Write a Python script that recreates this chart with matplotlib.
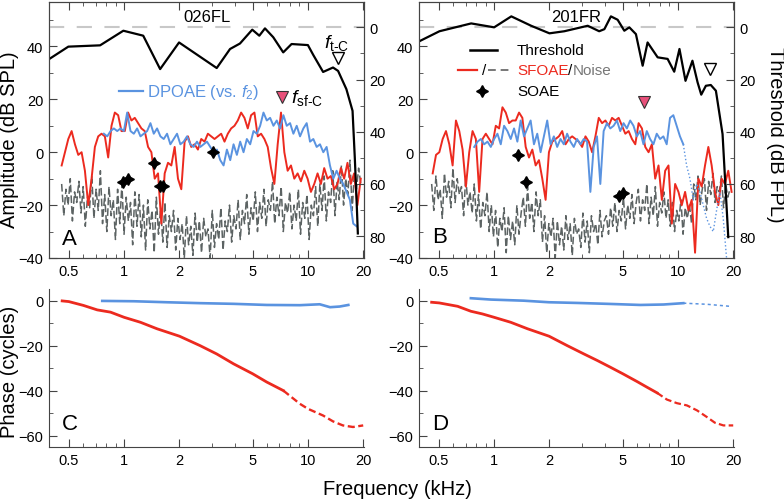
import numpy as np
import matplotlib.pyplot as plt
from matplotlib.ticker import NullFormatter
from matplotlib.lines import Line2D

plt.rcParams['font.family'] = ['Liberation Sans', 'DejaVu Sans']
plt.rcParams['mathtext.fontset'] = 'custom'
plt.rcParams['mathtext.rm'] = 'Liberation Sans'
plt.rcParams['mathtext.it'] = 'Liberation Sans:italic'

RED = '#ec2a1f'
BLUE = '#5a93e0'
GRAY = '#5c6363'
PINK = '#e8507a'
SPINE = '#444444'

# ---- panel A (026FL) ----
thr_a_f = [0.39, 0.497, 0.74, 0.99, 1.27, 1.57, 1.99, 3.19, 3.77, 4.27, 4.98, 5.44, 5.84,
           6.48, 7.34, 8.15, 10.0, 10.7, 12.1, 13.7, 14.6, 16.2, 17.5, 18.0, 18.4, 18.7]
thr_a = [12.2, 7.4, 6.9, 1.3, 3.2, 16, 5.8, 15.6, 8.3, 6.2, 0.9, 3.2, 0.4,
         3.8, 9.6, 6.4, 6.8, 10.6, 17.1, 15.4, 16.7, 23.7, 32, 50, 66, 79]

sf_a_range = (0.457, 19.4)
sf_a = [-5, 0, 5, 8, 3, -1, 0, -7, -20, -10, 2, 6, 7, 6, -2, 10, 15, 14, 8, 8,
        15, 12, 13, 11, 9, 8, 2, 0, -10, -8, -27, -8, -4, -5, 2, -10, -14, 4, 6, 2,
        3, 1, 5, 4, 7, 6, 5, 6, 7, 4, 7, 9, 10, 12, 15, 13, 9, 14, 15, 6,
        7, 5, 2, -6, -12, 3, 15, 0, -7, -5, -10, -8, -11, -7, -10, -15, -12, -8, -12, -6,
        -10, -9, -14, -12, -6, -10, -4, -12, -8, -20, -10]

dp_a_range = (0.776, 18.4)
dp_a = [7, 6, 8, 9, 8, 9, 8, 15, 8, 7, 9, 6, 7, 8, 11, 7, 9, 6, 5, 7,
        3, 5, 7, 3, 4, 6, 3, 2, 4, 2, 3, 4, 2, 0, 1, -3, -5, 1, -3, 3,
        -1, 4, 0, 5, 3, 8, 7, 10, 15, 12, 13, 10, 12, 9, 14, 10, 11, 7, 10, 6,
        9, 11, 4, 5, 2, 3, 0, 2, -5, -10, -7, -10, -12, -15, -18, -27, -28]

nz_a_range = (0.457, 19.4)
nz_a = [-12, -24, -14, -20, -10, -26, -15, -19, -11, -23, -13, -28, -17, -21, -9, -25,
        -14, -22, -7, -27, -16, -30, -13, -24, -18, -33, -14, -27, -12, -31, -17, -26,
        -19, -35, -15, -28, -16, -32, -20, -37, -18, -29, -22, -38, -17, -31, -21, -34,
        -19, -36, -24, -30, -22, -37, -25, -33, -27, -40, -24, -35, -28, -39, -23, -34,
        -26, -38, -25, -32, -29, -40, -22, -36, -27, -33, -21, -37, -26, -30, -20, -34,
        -24, -29, -18, -33, -22, -27, -16, -31, -21, -26, -15, -30, -19, -25, -14, -28,
        -18, -22, -11, -27, -17, -24, -13, -30, -19, -23, -15, -29, -20, -26, -14, -31,
        -19, -25, -16, -33, -20, -24, -13, -28, -12, -22, -9, -26, -15, -19, -7, -24,
        -11, -18, -5, -20, -10, -16, -3, -22, -8, -14, -6, -12]

soae_a_f = [0.99, 1.055, 1.46, 1.56, 1.63, 3.06]
soae_a = [-11.1, -10.1, -4.1, -12.9, -12.9, 0]

ph_sf_c_f = [0.46, 0.5, 0.6, 0.714, 0.843, 1.0, 1.226, 1.51, 2.0, 2.59, 3.19, 3.94, 5.0,
             5.97, 7.35, 9.05, 10.0, 12.1, 13.7, 15.5, 17.6, 20.0]
ph_sf_c = [0, -0.3, -2, -4, -5, -7.3, -9.5, -12.4, -15.7, -19.9, -23.6, -28, -32.4,
           -36.1, -39.9, -45.8, -48, -51, -53.6, -55.4, -56.1, -55.4]
ph_dp_c_f = [0.76, 1.13, 1.71, 2.59, 3.94, 5.97, 9.05, 11.6, 13.2, 14.9, 16.6]
ph_dp_c = [0, -0.15, -0.6, -1, -1.3, -1.8, -1.9, -1.5, -2.8, -2.5, -1.8]

# ---- panel B (201FR) ----
thr_b_f = [0.39, 0.504, 0.75, 1.0, 1.24, 1.59, 2.0, 2.41, 3.23, 3.73, 3.98, 4.32, 4.7,
           5.11, 5.44, 5.91, 6.43, 6.84, 7.76, 8.79, 9.55, 10.2, 11.0, 12.0, 12.8,
           13.4, 14.2, 15.1, 16.1, 17.5, 18.8]
thr_b = [5.4, 1.5, -1.5, 0, -4.2, -0.6, 2.3, 1.5, -0.6, 1.5, 0.7, -4.2, -2.9,
         1.3, 0, 2.6, 14.7, 5.8, 11.5, 12.1, 17, 8.3, 20.5, 12.8, 21.1,
         25.8, 22.4, 22.1, 24.3, 40.9, 80.4]

sf_b_range = (0.463, 19.6)
sf_b = [-8, -1, 0, 5, 8, 3, -5, 12, 8, 1, -13, 0, 8, 5, -15, 5, 7, 5, 3, 10,
        9, 17, 15, 11, 12, 12, 15, 13, 2, -2, 1, -5, -3, -10, -18, 0, 4, 5, 6, 8,
        3, 5, 6, 5, 4, 2, 6, 4, 0, 6, 13, 11, 12, 10, 13, 12, 13, 10, 7, 8,
        5, 3, 11, 9, 2, 0, 3, -10, -5, -18, -7, -5, -27, -12, -15, -20, -15, -22, -18, -38,
        -10, -13, -5, 2, -5, -15, -20, -10, -12, -7, -15]

dp_b_range = (0.779, 10.7)
dp_b = [2, 4, 5, 3, 4, 2, 5, 7, 3, 10, 8, 5, 9, 4, 12, 6, 9, 12, 3, 7,
        0, 6, 12, 3, 6, 2, 5, 3, 7, 4, 2, 5, 3, 5, 4, -15, 2, 6, -12, 8,
        11, 9, 10, 12, 8, 11, 9, 12, 10, 6, 8, 3, 8, 5, 3, 7, 5, 6, 3, 13,
        14, 10, 6, 3]
dp_b_tail_range = (10.7, 18.4)
dp_b_tail = [3, -5, -10, -18, -12, -15, -20, -25, -28, -30, -22, -15, -25, -40]

nz_b_range = (0.457, 19.2)
nz_b = [-12, -22, -9, -18, -14, -25, -8, -17, -11, -21, -6, -19, -10, -16, -13, -24,
        -9, -20, -15, -23, -12, -26, -16, -29, -19, -24, -15, -30, -20, -32, -22, -36,
        -25, -30, -21, -38, -24, -33, -26, -35, -20, -31, -23, -17, -28, -13, -25, -19,
        -30, -15, -24, -18, -34, -24, -38, -27, -32, -25, -40, -26, -35, -28, -37, -24,
        -33, -27, -39, -25, -31, -29, -36, -23, -34, -26, -38, -24, -30, -27, -35, -22,
        -32, -26, -24, -31, -21, -28, -19, -30, -22, -26, -17, -29, -20, -25, -16, -27,
        -19, -14, -26, -18, -22, -12, -27, -17, -24, -13, -28, -19, -23, -15, -25, -18,
        -28, -19, -30, -22, -26, -18, -31, -21, -25, -20, -27, -12, -18, -9, -20, -14,
        -10, -22, -11, -16, -8, -19, -13, -15, -9, -21, -12, -17, -14]

soae_b_f = [1.35, 1.5, 4.8, 5.04]
soae_b = [-0.9, -11.4, -16.7, -15.4]

ph_sf_d_f = [0.457, 0.503, 0.633, 0.747, 0.864, 1.0, 1.23, 1.52, 1.99, 2.5, 3.08, 3.64,
             4.29, 5.01, 6.0, 6.79, 7.7, 8.72, 9.88, 11.2, 12.7, 14.4, 15.9, 17.7, 20.0]
ph_sf_d = [-0.6, -0.9, -2.4, -4.6, -5.8, -7.3, -9.5, -12.4, -15.7, -19.9, -23.6, -26.5,
           -29.5, -32.4, -35.9, -38.4, -40.9, -43.9, -45.5, -46.5, -48.7, -51.7, -54.2, -55.4, -55.4]
ph_dp_d_f = [0.747, 0.96, 1.45, 1.99, 2.83, 4.12, 6.25, 8.36, 10.7, 14.4, 19.2]
ph_dp_d = [1.2, 0.6, 0.1, -0.6, -0.9, -1.3, -1.8, -1.6, -1.0, -1.5, -2.4]

xmaj = [0.5, 1, 2, 5, 10, 20]
xmaj_lab = ['0.5', '1', '2', '5', '10', '20']
xmin = [0.6, 0.7, 0.8, 0.9, 3, 4, 6, 7, 8, 9]


def grid(rng, vals):
    return np.geomspace(rng[0], rng[1], len(vals))


W, H = 784, 502
fig = plt.figure(figsize=(7.84, 5.02), dpi=100)


def box(l, r, t, b):
    return [l / W, 1 - b / H, (r - l) / W, (b - t) / H]


def style_x(ax):
    ax.set_xscale('log')
    ax.set_xlim(0.39, 20.2)
    ax.set_xticks(xmaj, xmaj_lab)
    ax.set_xticks(xmin, minor=True)
    ax.xaxis.set_minor_formatter(NullFormatter())


def top_panel(ax):
    style_x(ax)
    ax.set_ylim(-40, 57)
    ax.set_yticks([-40, -20, 0, 20, 40])
    ax.set_yticks([-30, -10, 10, 30, 50], minor=True)
    ax.tick_params(which='both', direction='in', top=True, labelsize=10.5, pad=4, color=SPINE)
    ax.tick_params(which='major', length=6)
    ax.tick_params(which='minor', length=3)
    for s in ax.spines.values():
        s.set_color(SPINE)
    ax2 = ax.twinx()
    ax2.set_ylim(88.4, -9.9)
    ax2.set_yticks([0, 20, 40, 60, 80])
    ax2.set_yticks([10, 30, 50, 70], minor=True)
    ax2.tick_params(which='both', direction='in', labelsize=10.5, pad=4, color=SPINE)
    ax2.tick_params(which='major', length=6)
    ax2.tick_params(which='minor', length=3)
    for s in ax2.spines.values():
        s.set_color(SPINE)
    ax2.axhline(0, color='#c8c8c8', lw=1.5, dashes=(7.3, 6), zorder=0)
    return ax2


def bottom_panel(ax):
    style_x(ax)
    ax.set_ylim(-65, 5.3)
    ax.set_yticks([-60, -40, -20, 0])
    ax.set_yticks([-50, -30, -10], minor=True)
    ax.tick_params(which='both', direction='in', labelsize=10.5, pad=4, color=SPINE)
    ax.tick_params(which='major', length=6)
    ax.tick_params(which='minor', length=3)
    ax.spines['top'].set_visible(False)
    ax.spines['right'].set_visible(False)
    for s in ax.spines.values():
        s.set_color(SPINE)


axA = fig.add_axes(box(49, 364, 2.5, 259))
axB = fig.add_axes(box(419, 734, 2.5, 259))
axC = fig.add_axes(box(49, 364, 290, 448))
axD = fig.add_axes(box(419, 734, 290, 448))

star = (4, 1, 0)

# ---- A ----
axA2 = top_panel(axA)
axA.plot(grid(nz_a_range, nz_a), nz_a, color=GRAY, lw=1.1, dashes=(5, 2))
axA.plot(grid(sf_a_range, sf_a), sf_a, color=RED, lw=1.4)
axA.plot(grid(dp_a_range, dp_a), dp_a, color=BLUE, lw=1.4)
axA.plot(soae_a_f, soae_a, ls='none', marker=star, ms=8.5, color='black')
axA.plot([7.19], [20.8], marker='v', ms=8, mfc=PINK, mec='#333333', mew=0.8)
axA.annotate(r'$f_{\mathrm{sf}\text{-}\mathrm{C}}$', (7.19, 20.8), xytext=(7, 0),
             textcoords='offset points', va='center', fontsize=14)
axA2.plot(thr_a_f, thr_a, color='black', lw=1.6)
axA2.plot([14.6], [11.9], marker='v', ms=8, mfc='white', mec='black', mew=1)
axA2.annotate(r'$f_{\mathrm{t}\text{-}\mathrm{C}}$', (14.6, 11.9), xytext=(-1, 12),
              textcoords='offset points', ha='center', va='center', fontsize=14)
axA.text(0.5, 0.943, '026FL', transform=axA.transAxes, ha='center', va='center', fontsize=12)
axA.add_line(Line2D([0.222, 0.298], [0.651, 0.651], transform=axA.transAxes, color=BLUE, lw=1.6))
axA.text(0.311, 0.651, r'DPOAE (vs. $f_2$)', transform=axA.transAxes, va='center',
         fontsize=12, color=BLUE)
axA.text(0.04, 0.055, 'A', transform=axA.transAxes, fontsize=16)

# ---- B ----
axB2 = top_panel(axB)
axB.plot(grid(nz_b_range, nz_b), nz_b, color=GRAY, lw=1.1, dashes=(5, 2))
axB.plot(grid(sf_b_range, sf_b), sf_b, color=RED, lw=1.4)
axB.plot(grid(dp_b_range, dp_b), dp_b, color=BLUE, lw=1.4)
axB.plot(grid(dp_b_tail_range, dp_b_tail), dp_b_tail, color=BLUE, lw=1, ls=':')
axB.plot(soae_b_f, soae_b, ls='none', marker=star, ms=8.5, color='black')
axB.plot([6.56], [18.9], marker='v', ms=8, mfc=PINK, mec='#333333', mew=0.8)
axB2.plot(thr_b_f, thr_b, color='black', lw=1.6)
axB2.plot([14.9], [16], marker='v', ms=8, mfc='white', mec='black', mew=1)
axB.text(0.5, 0.943, '201FR', transform=axB.transAxes, ha='center', va='center', fontsize=12)
# legend drawn by hand
axB.add_line(Line2D([0.162, 0.248], [0.809, 0.809], transform=axB.transAxes, color='black', lw=1.8))
axB.text(0.311, 0.809, 'Threshold', transform=axB.transAxes, va='center', fontsize=11)
axB.add_line(Line2D([0.124, 0.184], [0.731, 0.731], transform=axB.transAxes, color=RED, lw=1.6))
axB.text(0.206, 0.731, '/', transform=axB.transAxes, va='center', ha='center', fontsize=11)
axB.add_line(Line2D([0.218, 0.289], [0.731, 0.731], transform=axB.transAxes, color='#777777',
                    lw=1.4, dashes=(4, 2.5)))
t1 = axB.text(0.311, 0.731, 'SFOAE', transform=axB.transAxes, va='center', fontsize=11, color=RED)
t2 = axB.annotate('/', xycoords=t1, xy=(1, 0.5), va='center', fontsize=11, color='black')
axB.annotate('Noise', xycoords=t2, xy=(1, 0.5), va='center', fontsize=11, color='#777777')
axB.plot([0.2], [0.652], transform=axB.transAxes, marker=star, ms=8.5, color='black')
axB.text(0.311, 0.652, 'SOAE', transform=axB.transAxes, va='center', fontsize=11)
axB.text(0.043, 0.061, 'B', transform=axB.transAxes, fontsize=16)

# ---- C ----
bottom_panel(axC)
sf_c_f = np.array(ph_sf_c_f)
sf_c = np.array(ph_sf_c)
axC.plot(sf_c_f[:15], sf_c[:15], color=RED, lw=2.0)
axC.plot(sf_c_f[14:], sf_c[14:], color=RED, lw=1.7, dashes=(3, 1.5))
axC.plot(ph_dp_c_f, ph_dp_c, color=BLUE, lw=1.9)
axC.text(0.04, 0.114, 'C', transform=axC.transAxes, fontsize=16)

# ---- D ----
bottom_panel(axD)
sf_d_f = np.array(ph_sf_d_f)
sf_d = np.array(ph_sf_d)
axD.plot(sf_d_f[:17], sf_d[:17], color=RED, lw=2.0)
axD.plot(sf_d_f[16:], sf_d[16:], color=RED, lw=1.6, dashes=(3, 1.5))
dp_d_f = np.array(ph_dp_d_f)
dp_d = np.array(ph_dp_d)
axD.plot(dp_d_f[:9], dp_d[:9], color=BLUE, lw=1.9)
axD.plot(dp_d_f[8:], dp_d[8:], color=BLUE, lw=1.1, dashes=(2, 2))
axD.text(0.043, 0.114, 'D', transform=axD.transAxes, fontsize=16)

# ---- shared labels ----
fig.text(10 / W, 1 - 140 / H, 'Amplitude (dB SPL)', rotation=90, ha='center', va='center', fontsize=14.5)
fig.text(775 / W, 1 - 135 / H, 'Threshold (dB FPL)', rotation=270, ha='center', va='center', fontsize=14.5)
fig.text(10 / W, 1 - 372 / H, 'Phase (cycles)', rotation=90, ha='center', va='center', fontsize=14.5)
fig.text(397 / W, 1 - 490 / H, 'Frequency (kHz)', ha='center', va='center', fontsize=14.5)

fig.savefig('out.png', dpi=100)
